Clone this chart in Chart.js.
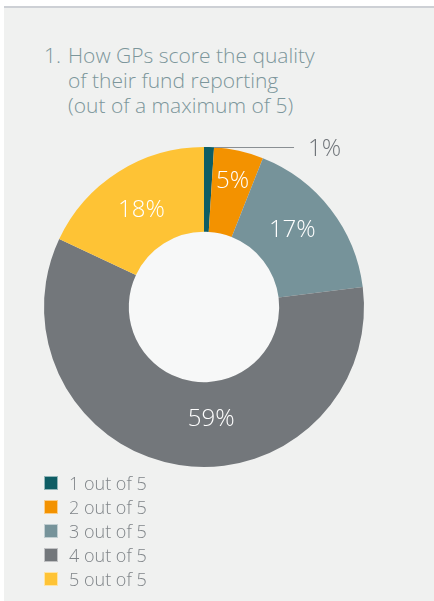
<!DOCTYPE html>
<html>
<head>
<meta charset="utf-8">
<script src="https://cdn.jsdelivr.net/npm/chart.js@4/dist/chart.umd.min.js"></script>
<style>
  body { margin: 0; background: #fff; font-family: 'Open Sans', sans-serif; }
  #panel { position: absolute; left: 4px; top: 6px; width: 430px; height: 595px; background: #f0f1f0; border-top: 2px solid #cdd0d5; }
  #title { position: absolute; left: 44px; top: 43px; display: flex; color: #7c969b; font-size: 21px; line-height: 25px; font-weight: 300; white-space: nowrap; }
  #title .num { width: 24px; }
  #wrap { position: absolute; left: 0; top: 0; width: 434px; height: 601px; }
  #legend { position: absolute; left: 44px; top: 471px; margin: 0; padding: 0; list-style: none; }
  #legend li { height: 24px; display: flex; align-items: center; color: #7f8488; font-size: 18px; font-weight: 300; }
  #legend .box { width: 12px; height: 12px; border: 1px solid rgba(255,255,255,0.55); margin-right: 11px; }
</style>
</head>
<body>
<div id="panel"></div>
<div id="title"><span class="num">1.</span><span>How GPs score the quality<br>of their fund reporting<br>(out of a maximum of 5)</span></div>
<div id="wrap"><canvas id="scoreChart"></canvas></div>
<ul id="legend"></ul>
<script>
const scores = ['1 out of 5', '2 out of 5', '3 out of 5', '4 out of 5', '5 out of 5']
const shares = [1, 5, 17, 59, 18]
const sliceColors = ['#0e5d64', '#f39200', '#76939a', '#73777b', '#fec335']

// where each label sits inside its slice: [fraction along the angle, fraction of outer radius]
const labelSpots = [null, [0.5, 0.82], [0.435, 0.74], [0.44, 0.69], [0.5, 0.73]]

const sliceLabels = {
  id: 'sliceLabels',
  beforeDatasetsDraw (chart) {
    const arc = chart.getDatasetMeta(0).data[0]
    if (!arc) return
    const { x, y, innerRadius } = arc.getProps(['x', 'y', 'innerRadius'], true)
    const ctx = chart.ctx
    ctx.save()
    ctx.fillStyle = '#f7f8f8'
    ctx.beginPath()
    ctx.arc(x, y, innerRadius, 0, Math.PI * 2)
    ctx.fill()
    ctx.restore()
  },
  afterDatasetsDraw (chart) {
    const ctx = chart.ctx
    const size = 24
    ctx.save()
    ctx.font = `300 ${size}px 'Open Sans', sans-serif`
    ctx.textBaseline = 'alphabetic'
    chart.getDatasetMeta(0).data.forEach((arc, i) => {
      const { x, y, startAngle, endAngle, outerRadius } =
        arc.getProps(['x', 'y', 'startAngle', 'endAngle', 'outerRadius'], true)
      const text = shares[i] + '%'
      const spot = labelSpots[i]
      if (!spot) {
        // small slice: callout line to the right
        const ly = y + outerRadius * Math.sin(endAngle)
        const lx = x + outerRadius * Math.cos(endAngle)
        ctx.strokeStyle = '#8a8f93'
        ctx.lineWidth = 1
        ctx.beginPath()
        ctx.moveTo(lx, Math.round(ly) + 0.5)
        ctx.lineTo(lx + 80, Math.round(ly) + 0.5)
        ctx.stroke()
        ctx.fillStyle = '#70757a'
        ctx.textAlign = 'left'
        ctx.fillText(text, lx + 94, ly + size * 0.36)
        return
      }
      const a = startAngle + (endAngle - startAngle) * spot[0]
      const r = outerRadius * spot[1]
      ctx.fillStyle = '#ffffff'
      ctx.textAlign = 'center'
      ctx.fillText(text, x + r * Math.cos(a), y + r * Math.sin(a) + size * 0.36)
    })
    ctx.restore()
  }
}

const chart = new Chart('scoreChart', {
  type: 'doughnut',
  data: {
    labels: scores,
    datasets: [{
      data: shares,
      backgroundColor: sliceColors,
      borderWidth: 0
    }]
  },
  options: {
    responsive: true,
    maintainAspectRatio: false,
    animation: false,
    cutout: '47%',
    layout: { padding: { left: 44, right: 70, top: 147, bottom: 134 } },
    plugins: {
      legend: { display: false },
      tooltip: { enabled: false }
    }
  },
  plugins: [sliceLabels]
})

// legend list built from the chart's own legend items
const legendEl = document.getElementById('legend')
chart.options.plugins.legend.labels.generateLabels(chart).forEach(item => {
  const li = document.createElement('li')
  const box = document.createElement('span')
  box.className = 'box'
  box.style.background = item.fillStyle
  li.appendChild(box)
  li.appendChild(document.createTextNode(item.text))
  legendEl.appendChild(li)
})
</script>
</body>
</html>
